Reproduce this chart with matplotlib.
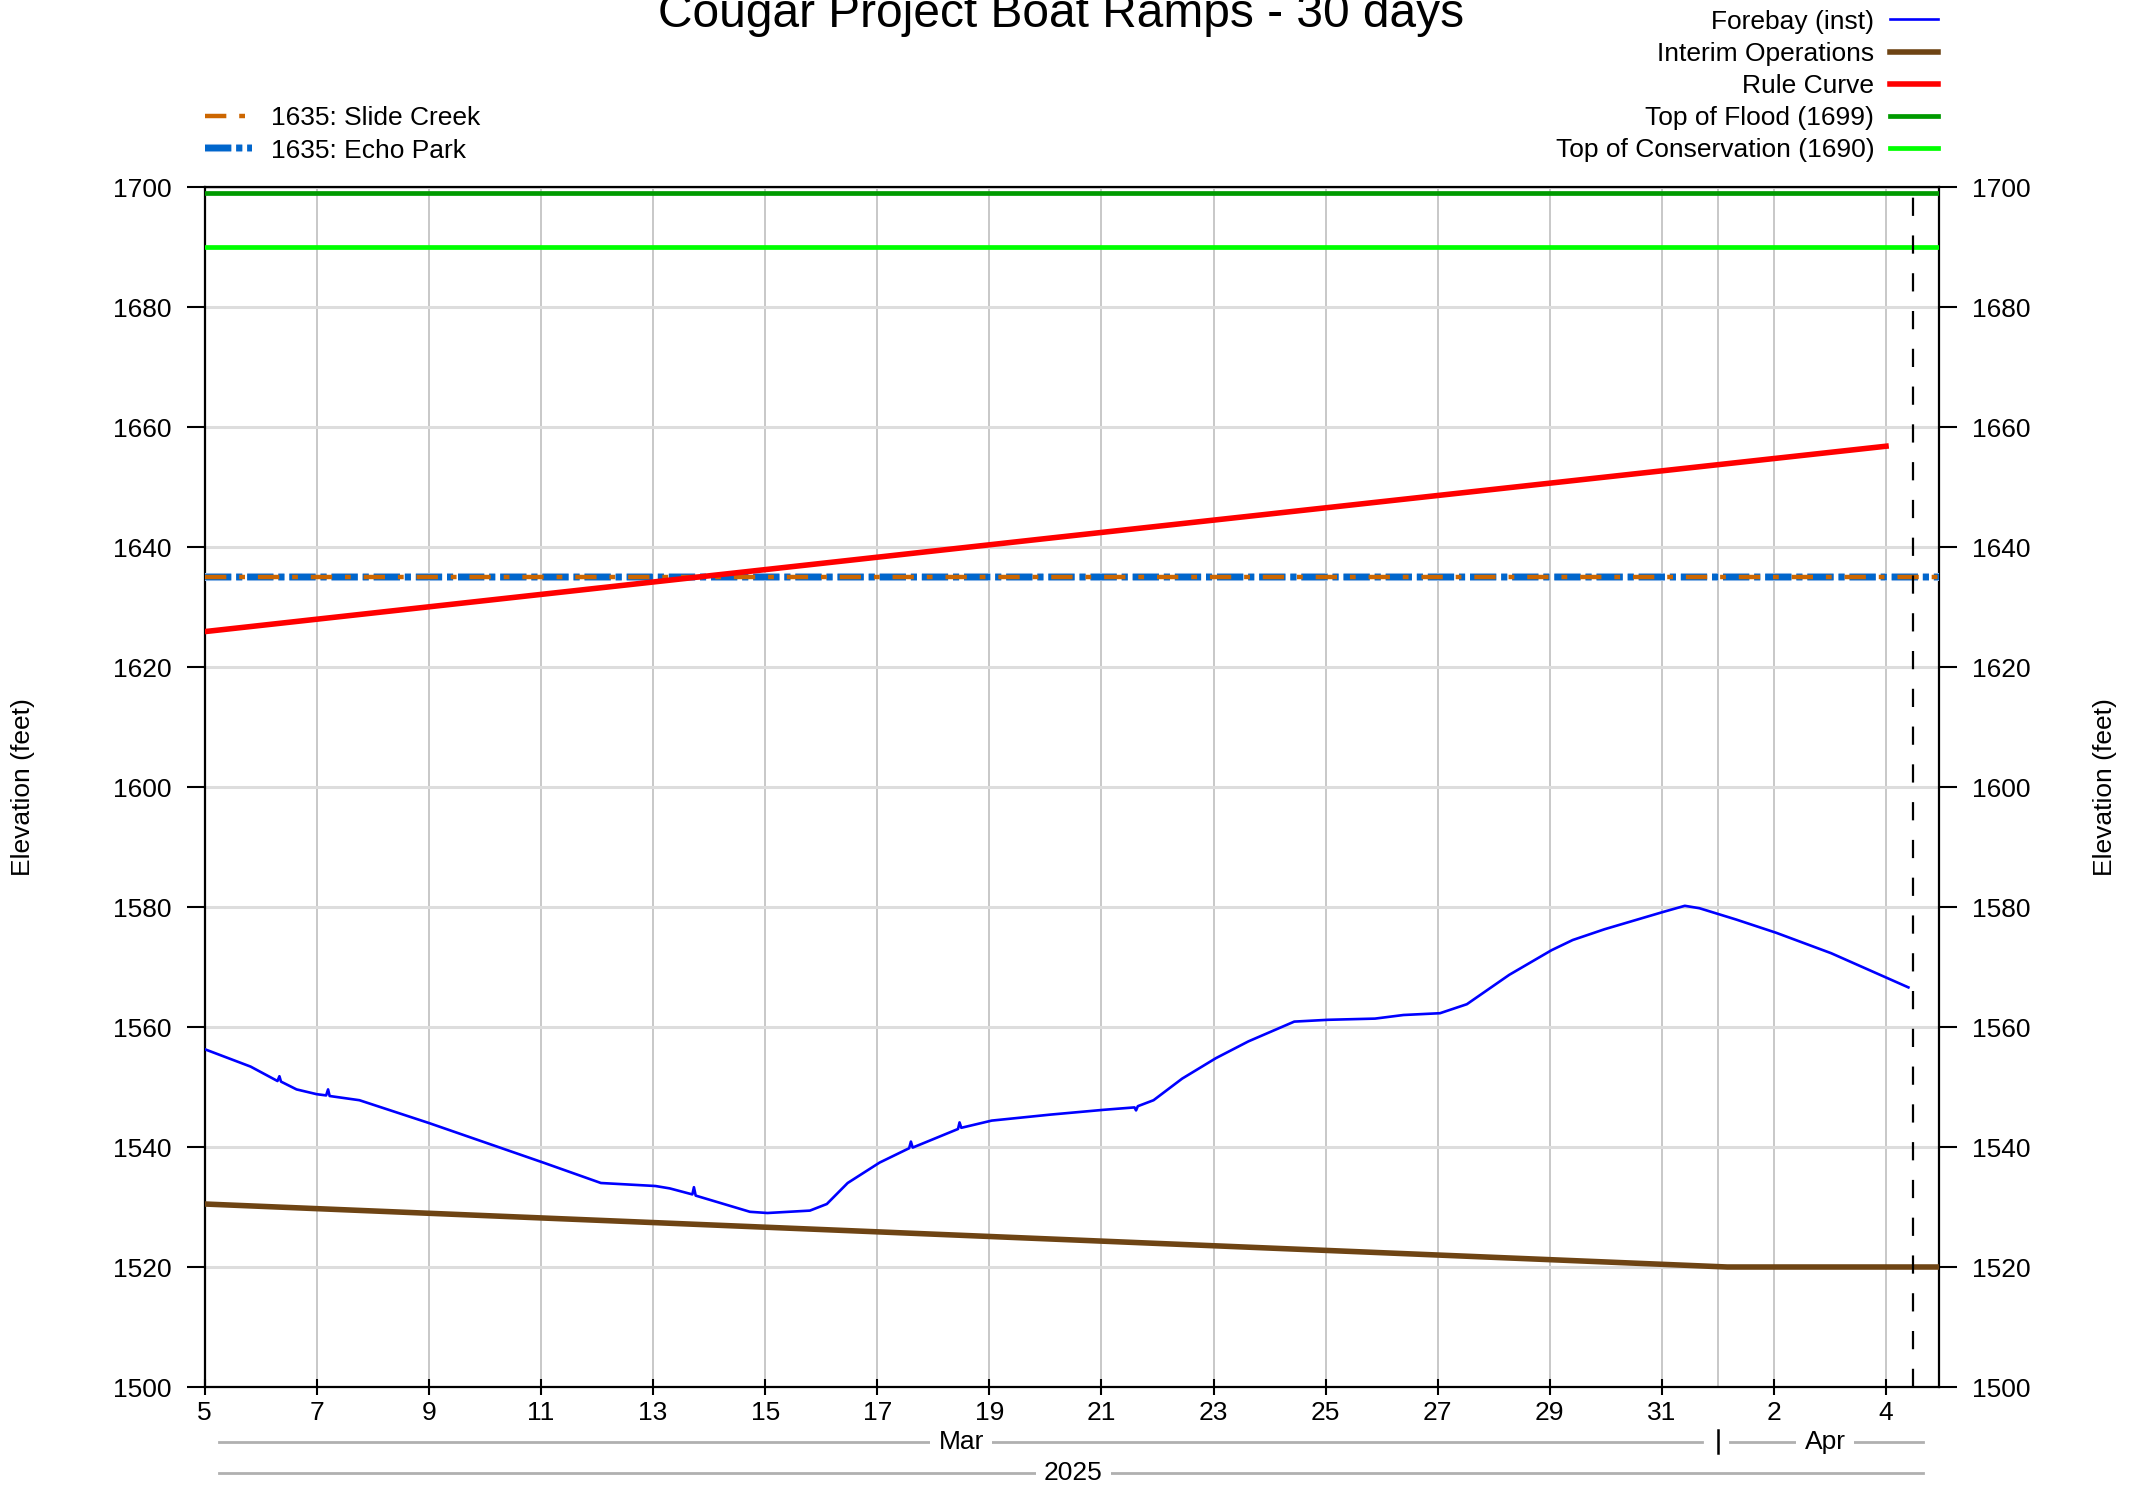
import numpy as np
import pandas as pd
import matplotlib
matplotlib.use("Agg")
import matplotlib.pyplot as plt
import matplotlib.dates as mdates
import matplotlib.patheffects as pe

plt.rcParams['font.family'] = ['Liberation Sans', 'DejaVu Sans']

# forebay elevation (instantaneous)
forebay_time = [
    "2025-03-05 00:00", "2025-03-05 19:40", "2025-03-06 07:10", "2025-03-06 08:00",
    "2025-03-06 08:40", "2025-03-06 15:20", "2025-03-07 00:00", "2025-03-07 04:00",
    "2025-03-07 04:50", "2025-03-07 05:30", "2025-03-07 18:15", "2025-03-09 00:00",
    "2025-03-11 01:00", "2025-03-12 01:40", "2025-03-13 01:00", "2025-03-13 07:10",
    "2025-03-13 16:50", "2025-03-13 17:30", "2025-03-13 18:15", "2025-03-14 17:30",
    "2025-03-15 01:00", "2025-03-15 19:10", "2025-03-16 02:25", "2025-03-16 11:20",
    "2025-03-17 01:00", "2025-03-17 13:40", "2025-03-17 14:25", "2025-03-17 15:10",
    "2025-03-18 10:35", "2025-03-18 11:15", "2025-03-18 12:00", "2025-03-19 01:00",
    "2025-03-20 02:10", "2025-03-21 01:00", "2025-03-21 14:10", "2025-03-21 14:50",
    "2025-03-21 15:35", "2025-03-21 22:20", "2025-03-22 10:35", "2025-03-23 01:00",
    "2025-03-23 14:55", "2025-03-24 10:35", "2025-03-25 01:00", "2025-03-25 21:10",
    "2025-03-26 09:20", "2025-03-27 01:00", "2025-03-27 12:30", "2025-03-28 06:40",
    "2025-03-29 00:45", "2025-03-29 09:50", "2025-03-29 23:30", "2025-03-31 00:45",
    "2025-03-31 09:50", "2025-03-31 16:05", "2025-04-01 07:55", "2025-04-02 01:00",
    "2025-04-03 00:30", "2025-04-04 09:35",
]
forebay_elev = [
    1556.3, 1553.4, 1551.0, 1551.8,
    1550.9, 1549.6, 1548.8, 1548.6,
    1549.6, 1548.5, 1547.8, 1544.0,
    1537.4, 1534.0, 1533.5, 1533.1,
    1532.1, 1533.3, 1531.9, 1529.2,
    1529.0, 1529.4, 1530.5, 1534.0,
    1537.4, 1539.8, 1540.9, 1539.9,
    1543.0, 1544.1, 1543.2, 1544.4,
    1545.4, 1546.2, 1546.6, 1546.1,
    1546.8, 1547.8, 1551.4, 1554.8,
    1557.6, 1560.9, 1561.2, 1561.4,
    1562.0, 1562.3, 1563.8, 1568.7,
    1572.8, 1574.5, 1576.3, 1579.2,
    1580.2, 1579.8, 1577.9, 1575.7,
    1572.3, 1566.6,
]

rule_time = ["2025-03-05 00:00", "2025-03-20 00:00", "2025-04-04 00:00"]
rule_elev = [1625.9, 1641.4, 1656.8]

interim_time = ["2025-03-05 00:00", "2025-04-01 04:00", "2025-04-04 22:30"]
interim_elev = [1530.5, 1520.0, 1520.0]

top_flood = 1699
top_conservation = 1690
slide_creek = 1635
echo_park = 1635

t_start = pd.Timestamp("2025-03-05 00:00")
t_end = pd.Timestamp("2025-04-04 22:30")
t_now = pd.Timestamp("2025-04-04 11:30")
t_month = pd.Timestamp("2025-04-01 00:00")

fig = plt.figure(figsize=(21.39, 14.89), dpi=100)
ax = fig.add_axes([0.0957, 0.0685, 0.8106, 0.8059])

# grid
ax.set_axisbelow(True)
ax.yaxis.grid(True, color='#DDDDDD', lw=2.2)
ax.xaxis.grid(True, color='#C4C4C4', lw=1.3)
ax.axvline(t_month, color='#C4C4C4', lw=1.3, zorder=0.5)

ax.plot(pd.to_datetime(forebay_time), forebay_elev, color='#0000FF', lw=1.9,
        label='Forebay (inst)', zorder=6)
ax.plot(pd.to_datetime(interim_time), interim_elev, color='#6E4414', lw=4,
        label='Interim Operations', zorder=4)
ax.plot(pd.to_datetime(rule_time), rule_elev, color='#FF0000', lw=4,
        label='Rule Curve', zorder=4)
ax.plot([t_start, t_end], [top_flood] * 2, color='#009A00', lw=3.4,
        label='Top of Flood (1699)', zorder=4)
ax.plot([t_start, t_end], [top_conservation] * 2, color='#00FF00', lw=3.4,
        label='Top of Conservation (1690)', zorder=4)

echo, = ax.plot([t_start, t_end], [echo_park] * 2, color='#0066CC', lw=4.4,
                ls=(0, (4.3, 0.8, 1.0, 0.8)), label='1635: Echo Park', zorder=3,
                path_effects=[pe.Stroke(linewidth=5.8, foreground='#8FB8E8'), pe.Normal()])
slide, = ax.plot([t_start, t_end], [slide_creek] * 2, color='#CC6600', lw=3.2,
                 ls=(0, (4.8, 2.9, 1.3, 2.9)), label='1635: Slide Creek', zorder=3.5)

ax.axvline(t_now, color='black', lw=1.6, ls=(0, (8.2, 8.8)), zorder=7)

ax.set_xlim(t_start, t_end)
ax.set_ylim(1500, 1700)
ax.set_yticks(np.arange(1500, 1701, 20))
ax.set_xticks(pd.date_range("2025-03-05", "2025-04-04", freq="2D"))
ax.xaxis.set_major_formatter(mdates.DateFormatter('%-d'))

ax.tick_params(axis='y', direction='out', length=13, width=1.5, pad=11,
               labelsize=19, right=True, labelright=True)
ax.tick_params(axis='x', direction='inout', length=12, width=1.5, pad=4, labelsize=19)
for s in ax.spines.values():
    s.set_linewidth(1.6)
    s.set_color('black')

fig.text(0.0108, 0.4714, 'Elevation (feet)', rotation=90, ha='center', va='center', fontsize=19)
fig.text(0.9843, 0.4714, 'Elevation (feet)', rotation=90, ha='center', va='center', fontsize=19)

fig.text(0.4959, 1 - 27 / 1489, 'Cougar Project Boat Ramps - 30 days', ha='center',
         va='baseline', fontsize=34.5)

# month / year rows beneath the axis
tr = ax.get_xaxis_transform()
gray = '#B0B0B0'
y_mon, y_year = -0.0458, -0.0717
ax.plot([pd.Timestamp("2025-03-05 06:00"), pd.Timestamp("2025-03-31 17:00")], [y_mon] * 2,
        transform=tr, clip_on=False, color=gray, lw=2)
ax.plot([pd.Timestamp("2025-04-01 05:00"), pd.Timestamp("2025-04-04 16:00")], [y_mon] * 2,
        transform=tr, clip_on=False, color=gray, lw=2)
ax.plot([pd.Timestamp("2025-03-05 06:00"), pd.Timestamp("2025-04-04 16:00")], [y_year] * 2,
        transform=tr, clip_on=False, color=gray, lw=2)
ax.plot([t_month, t_month], [-0.036, -0.055], transform=tr, clip_on=False, color='black', lw=1.8)
bb = dict(facecolor='white', edgecolor='none', pad=6)
ax.text(pd.Timestamp("2025-03-18 12:00"), y_mon, 'Mar', transform=tr, ha='center', va='center',
        fontsize=19, bbox=bb)
ax.text(pd.Timestamp("2025-04-02 22:00"), y_mon, 'Apr', transform=tr, ha='center', va='center',
        fontsize=19, bbox=bb)
ax.text(pd.Timestamp("2025-03-20 12:00"), y_year, '2025', transform=tr, ha='center', va='center',
        fontsize=19, bbox=bb)

# legends
h, l = ax.get_legend_handles_labels()
main_h = h[:5]
main_l = l[:5]
fig.legend(main_h, main_l, loc='upper right', bbox_to_anchor=(0.9058, 0.9935),
           frameon=False, markerfirst=False, fontsize=19, handlelength=1.8,
           handletextpad=0.6, labelspacing=0.31, borderpad=0, borderaxespad=0)
fig.legend([slide, echo], ['1635: Slide Creek', '1635: Echo Park'], loc='upper left',
           bbox_to_anchor=(0.0958, 0.9285), frameon=False, fontsize=19, handlelength=1.8,
           handletextpad=0.7, labelspacing=0.31, borderpad=0, borderaxespad=0)

fig.savefig('out.png', dpi=100)
